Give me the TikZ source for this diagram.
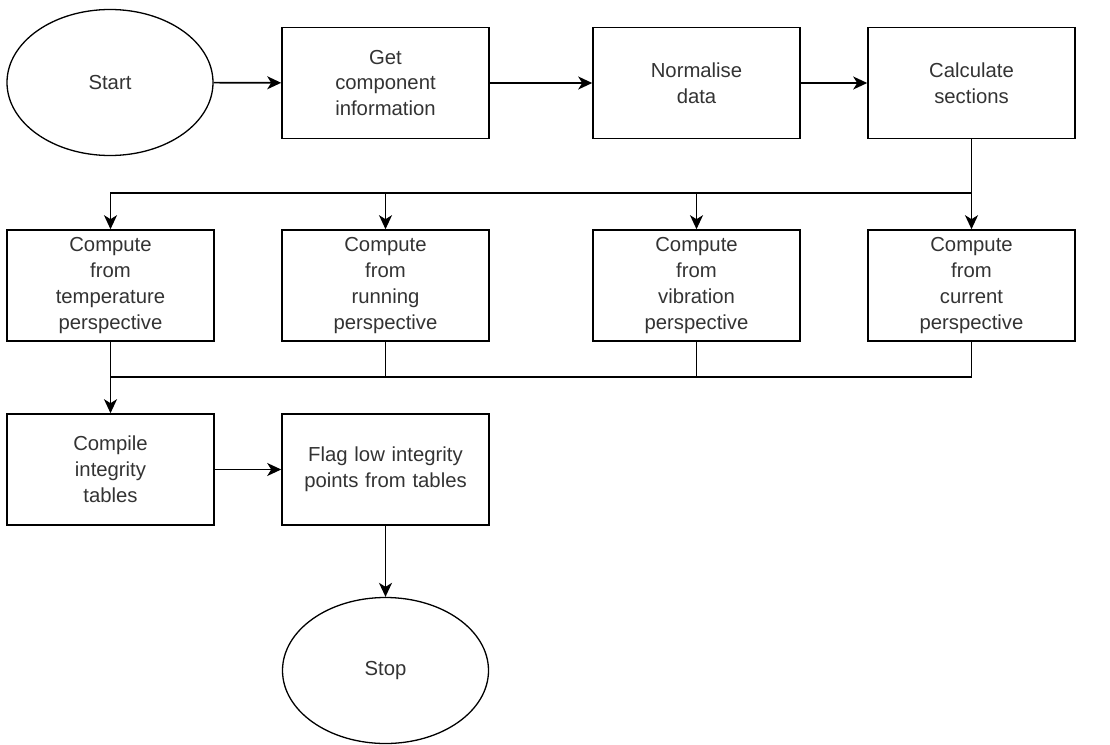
\documentclass[tikz,border=0pt]{standalone}
\usepackage{fontspec}
\setmainfont{Liberation Sans}
\usetikzlibrary{arrows.meta,shapes.geometric}
\definecolor{txt}{HTML}{333333}
\begin{document}
\begin{tikzpicture}[x=1pt,y=-1pt,
  every node/.style={font=\fontsize{20.3}{25.8}\selectfont, text=txt},
  procbox/.style={draw=black, line width=1.6pt, minimum width=207pt, minimum height=111pt, inner sep=0pt, align=center, text width=200pt},
  term/.style={draw=black, line width=1.3pt, ellipse, minimum width=206pt, minimum height=146pt, inner sep=0pt},
  conn/.style={line width=1.6pt, draw=black},
  arr/.style={conn, -{Stealth[length=14pt,width=13pt,inset=4pt]}}]
\useasboundingbox (0,0) rectangle (1110,744);
\node[term] (start) at (110,82.5) {Start};
\node[procbox] (b1) at (385.5,83) {Get\\component\\information};
\node[procbox] (b2) at (696.5,83) {Normalise\\data};
\node[procbox] (b3) at (971.5,83) {Calculate\\sections};
\node[procbox] (ca) at (110.5,285.5) {Compute\\from\\temperature\\perspective};
\node[procbox] (cb) at (385.5,285.5) {Compute\\from\\running\\perspective};
\node[procbox] (cc) at (696.5,285.5) {Compute\\from\\vibration\\perspective};
\node[procbox] (cd) at (971.5,285.5) {Compute\\from\\current\\perspective};
\node[procbox] (comp) at (110.5,469.5) {Compile\\integrity\\tables};
\node[procbox] (flag) at (385.5,469.5) {Flag low integrity\\points from tables};
\node[term] (stop) at (385.5,670.5) {Stop};
\coordinate (split) at (971.5,193);
\coordinate (merge) at (110.5,377);
\draw[arr] (start) -- (b1);
\draw[arr] (b1) -- (b2);
\draw[arr] (b2) -- (b3);
\draw[conn] (b3.south) -- (split);
\draw[arr] (split) -| (ca.north);
\draw[arr] (split) -| (cb.north);
\draw[arr] (split) -| (cc.north);
\draw[arr] (split) -- (cd.north);
\draw[conn] (ca.south) -- (merge);
\draw[conn] (cb.south) |- (merge);
\draw[conn] (cc.south) |- (merge);
\draw[conn] (cd.south) |- (merge);
\draw[arr] (merge) -- (comp.north);
\draw[arr] (comp) -- (flag);
\draw[arr] (flag) -- (stop);
\end{tikzpicture}
\end{document}
